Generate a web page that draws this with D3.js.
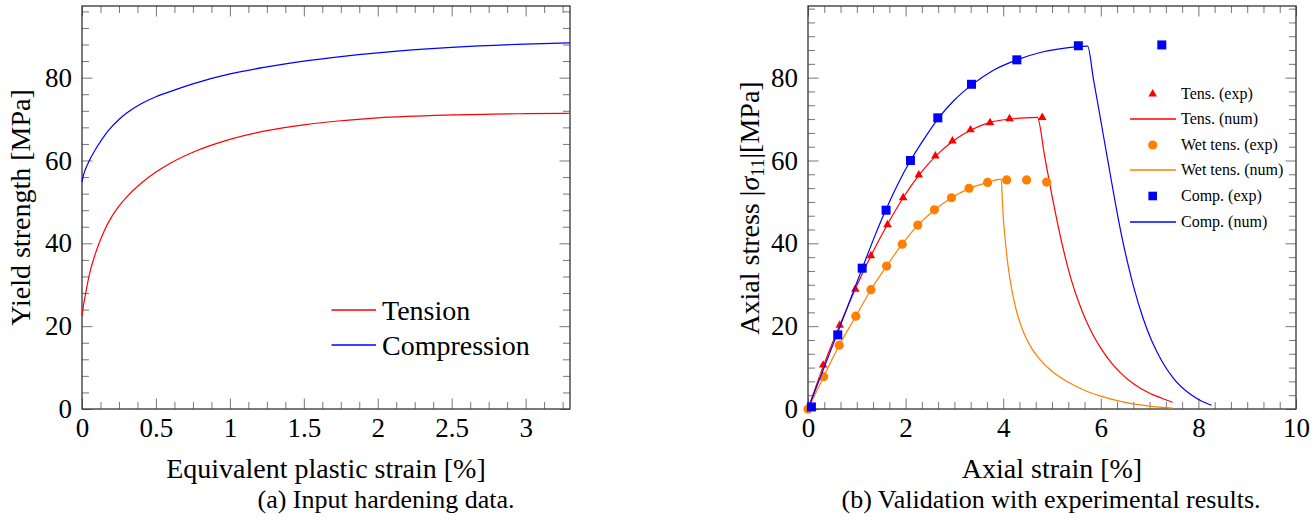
<!DOCTYPE html>
<html><head><meta charset="utf-8">
<script src="https://cdn.jsdelivr.net/npm/d3@7"></script>
<style>
body{margin:0;background:#fff}
svg{display:block}
text{font-family:"Liberation Serif","Times New Roman",Times,serif;fill:#000}
</style>
</head><body>
<svg id="c" width="1316" height="520"></svg>
<script>
// ---------- Panel (a): input hardening data ----------
const hardTensionStrain = [0,0.01,0.02,0.05,0.1,0.15,0.2,0.25,0.3,0.4,0.5,0.6,0.75,1.0,1.25,1.5,1.75,2.0,2.5,3.0,3.3];
const hardTensionYield  = [22.5,25.0,27.0,32.5,38.5,43.0,46.4,49.0,51.1,54.5,57.2,59.4,62.0,65.1,67.2,68.6,69.6,70.3,71.0,71.3,71.4];
const hardCompStrain = [0,0.01,0.02,0.05,0.1,0.15,0.2,0.25,0.3,0.4,0.5,0.6,0.75,1.0,1.25,1.5,1.75,2.0,2.5,3.0,3.3];
const hardCompYield  = [54.8,56.5,57.6,60.0,63.2,65.9,68.1,69.9,71.4,73.7,75.4,76.7,78.5,80.9,82.6,84.0,85.1,86.0,87.3,88.1,88.4];
const hardLegend = ["Tension","Compression"];

// ---------- Panel (b): validation ----------
const tensExpStrain = [0.31,0.65,0.97,1.29,1.63,1.95,2.27,2.61,2.96,3.33,3.73,4.13,4.80];
const tensExpStress = [10.6,20.2,28.9,37.0,44.5,51.0,56.5,61.1,64.7,67.4,69.1,70.1,70.4];
const tensNumStrain = [0,0.31,0.65,0.97,1.29,1.63,1.95,2.27,2.61,2.96,3.33,3.73,4.13,4.45,4.70,4.85,5.00,5.10,5.20,5.30,5.40,5.55,5.70,5.85,6.00,6.20,6.40,6.67,7.00,7.25,7.47];
const tensNumStress = [0,10.2,20.2,29.0,37.0,44.6,51.0,56.4,61.0,64.6,67.3,69.2,70.0,70.3,70.4,61.0,51.5,45.6,40.2,35.3,31.0,25.7,21.3,17.7,14.7,11.4,8.8,6.1,3.8,2.6,1.6];

const wetExpStrain = [0,0.32,0.64,0.98,1.29,1.61,1.93,2.25,2.59,2.94,3.30,3.68,4.07,4.48,4.89];
const wetExpStress = [0,7.8,15.4,22.4,28.8,34.5,39.8,44.4,48.1,51.0,53.3,54.7,55.3,55.3,54.8];
const wetNumStrain = [0,0.32,0.64,0.98,1.29,1.61,1.93,2.25,2.59,2.94,3.30,3.68,3.96,3.98,4.00,4.04,4.10,4.18,4.28,4.40,4.55,4.75,5.00,5.30,5.65,6.00,6.50,7.00,7.47];
const wetNumStress = [0,7.8,15.4,22.4,28.8,34.5,39.8,44.4,48.0,51.0,53.2,54.7,55.5,51.0,46.5,41.0,34.5,28.5,23.3,19.0,15.3,12.0,9.1,6.7,4.6,3.1,1.6,0.7,0.2];

const compExpStrain = [0.07,0.61,1.11,1.60,2.10,2.66,3.35,4.28,5.54,7.25];
const compExpStress = [0.5,17.9,34.0,48.0,60.0,70.3,78.4,84.3,87.7,87.9];
const compNumStrain = [0,0.6,1.1,1.35,1.6,1.85,2.1,2.4,2.66,3.0,3.35,3.8,4.28,4.8,5.3,5.73,5.85,6.0,6.15,6.27,6.36,6.46,6.57,6.67,6.87,7.05,7.25,7.49,7.83,8.05,8.27];
const compNumStress = [0,18.2,33.6,41.2,48.2,54.5,60.0,65.6,70.0,74.6,78.2,81.8,84.3,86.2,87.2,87.6,79.6,69.6,59.6,51.6,45.8,40.0,34.3,29.6,21.8,16.3,11.6,7.4,3.6,2.0,0.9];

const valLegend = ["Tens. (exp)","Tens. (num)","Wet tens. (exp)","Wet tens. (num)","Comp. (exp)","Comp. (num)"];

// ---------- tick labels ----------
const aXTicks = [0,0.5,1,1.5,2,2.5,3];
const aYTicks = [0,20,40,60,80];
const bXTicks = [0,2,4,6,8,10];
const bYTicks = [0,20,40,60,80];

const RED="#ff0000", BLUE="#0000ff", ORANGE="#ff8000";
const svg = d3.select("#c");
const MAJ=10.5, MIN=7;

function frameAxes(g, x, y, xMaj, xMin, yMaj, yMin) {
  const [x0,x1]=x.range(), [y0,y1]=y.range();
  const styl = a => { a.select(".domain").remove();
    a.selectAll("line").attr("stroke","#777").attr("stroke-width",1);
    a.selectAll("text").style("font-family",'"Liberation Serif","Times New Roman",serif').style("font-size","27px").attr("fill","#000"); };
  g.append("g").attr("transform",`translate(0,${y0})`)
    .call(d3.axisBottom(x).tickValues(xMaj).tickSizeInner(-MAJ).tickSizeOuter(0).tickPadding(9).tickFormat(d=>String(d))).call(styl);
  g.append("g").attr("transform",`translate(0,${y0})`)
    .call(d3.axisBottom(x).tickValues(xMin).tickSizeInner(-MIN).tickSizeOuter(0).tickFormat("")).call(styl);
  g.append("g").attr("transform",`translate(0,${y1})`)
    .call(d3.axisTop(x).tickValues(xMaj).tickSizeInner(-MAJ).tickSizeOuter(0).tickFormat("")).call(styl);
  g.append("g").attr("transform",`translate(0,${y1})`)
    .call(d3.axisTop(x).tickValues(xMin).tickSizeInner(-MIN).tickSizeOuter(0).tickFormat("")).call(styl);
  g.append("g").attr("transform",`translate(${x0},0)`)
    .call(d3.axisLeft(y).tickValues(yMaj).tickSizeInner(-MAJ).tickSizeOuter(0).tickPadding(10).tickFormat(d=>String(d))).call(styl);
  g.append("g").attr("transform",`translate(${x0},0)`)
    .call(d3.axisLeft(y).tickValues(yMin).tickSizeInner(-MIN).tickSizeOuter(0).tickFormat("")).call(styl);
  g.append("g").attr("transform",`translate(${x1},0)`)
    .call(d3.axisRight(y).tickValues(yMaj).tickSizeInner(-MAJ).tickSizeOuter(0).tickFormat("")).call(styl);
  g.append("g").attr("transform",`translate(${x1},0)`)
    .call(d3.axisRight(y).tickValues(yMin).tickSizeInner(-MIN).tickSizeOuter(0).tickFormat("")).call(styl);
  g.append("rect").attr("x",x0).attr("y",y1).attr("width",x1-x0).attr("height",y0-y1)
    .attr("fill","none").attr("stroke","#333").attr("stroke-width",1.3);
}

// ===== Panel (a) =====
const xa = d3.scaleLinear().domain([0,3.3]).range([82,570]);
const ya = d3.scaleLinear().domain([0,97.3]).range([409,6]);
const ga = svg.append("g");
const aXMin = d3.range(0,3.3001,0.125).filter(v=>Math.abs(v/0.5-Math.round(v/0.5))>1e-6);
const aYMin = d3.range(0,97.3,4).filter(v=>v%20!==0);
frameAxes(ga, xa, ya, aXTicks, aXMin, aYTicks, aYMin);

const la = d3.line().x(d=>xa(d[0])).y(d=>ya(d[1])).curve(d3.curveMonotoneX);
ga.append("path").attr("d",la(d3.zip(hardTensionStrain,hardTensionYield)))
  .attr("fill","none").attr("stroke",RED).attr("stroke-width",1.2);
ga.append("path").attr("d",la(d3.zip(hardCompStrain,hardCompYield)))
  .attr("fill","none").attr("stroke",BLUE).attr("stroke-width",1.2);

// legend (a)
[[RED,310],[BLUE,345]].forEach((c,i)=>{
  ga.append("line").attr("x1",331.5).attr("x2",376).attr("y1",c[1]).attr("y2",c[1])
    .attr("stroke",c[0]).attr("stroke-width",1.3);
  ga.append("text").attr("x",382).attr("y",c[1]+9.5).style("font-size","28px").text(hardLegend[i]);
});

ga.append("text").attr("x",326).attr("y",478).attr("text-anchor","middle").style("font-size","28px")
  .text("Equivalent plastic strain [%]");
ga.append("text").attr("transform","translate(30,207.5) rotate(-90)").attr("text-anchor","middle")
  .style("font-size","28px").text("Yield strength [MPa]");
ga.append("text").attr("x",386).attr("y",508).attr("text-anchor","middle").style("font-size","26px")
  .text("(a) Input hardening data.");

// ===== Panel (b) =====
const xb = d3.scaleLinear().domain([0,10]).range([808,1296]);
const yb = d3.scaleLinear().domain([0,97.3]).range([409,6]);
const gb = svg.append("g");
const bXMin = d3.range(0,31).filter(i=>i%6!==0).map(i=>i*2/6);
const bYMin = d3.range(0,30).filter(i=>i%6!==0).map(i=>i*20/6);
frameAxes(gb, xb, yb, bXTicks, bXMin, bYTicks, bYMin);

const plot = gb.append("g");
const lb = d3.line().x(d=>xb(d[0])).y(d=>yb(d[1])).curve(d3.curveMonotoneX);
const tri = d3.symbol().type(d3.symbolTriangle).size(32);

function triMarks(xs,ys,color){
  plot.append("g").selectAll("path").data(d3.zip(xs,ys)).join("path")
    .attr("d",tri).attr("transform",d=>`translate(${xb(d[0])},${yb(d[1])})`).attr("fill",color);
}
function circMarks(xs,ys,color){
  plot.append("g").selectAll("circle").data(d3.zip(xs,ys)).join("circle")
    .attr("cx",d=>xb(d[0])).attr("cy",d=>yb(d[1])).attr("r",4.6).attr("fill",color);
}
function sqMarks(xs,ys,color){
  plot.append("g").selectAll("rect").data(d3.zip(xs,ys)).join("rect")
    .attr("x",d=>xb(d[0])-4.5).attr("y",d=>yb(d[1])-4.5).attr("width",9).attr("height",9).attr("fill",color);
}
function numLine(xs,ys,color){
  plot.append("path").attr("d",lb(d3.zip(xs,ys))).attr("fill","none").attr("stroke",color).attr("stroke-width",1.2);
}
triMarks(tensExpStrain,tensExpStress,RED);
numLine(tensNumStrain,tensNumStress,RED);
circMarks(wetExpStrain,wetExpStress,ORANGE);
numLine(wetNumStrain,wetNumStress,ORANGE);
sqMarks(compExpStrain,compExpStress,BLUE);
numLine(compNumStrain,compNumStress,BLUE);

// legend (b)
const legTypes = [["tri",RED],["line",RED],["circ",ORANGE],["line",ORANGE],["sq",BLUE],["line",BLUE]];
legTypes.forEach((t,i)=>{
  const cy = Math.round(93.5 + 25.6*i), mx = 1152.7;
  if(t[0]==="line") gb.append("line").attr("x1",1130).attr("x2",1176).attr("y1",cy).attr("y2",cy).attr("stroke",t[1]).attr("stroke-width",1.3);
  if(t[0]==="tri") gb.append("path").attr("d",tri).attr("transform",`translate(${mx},${cy})`).attr("fill",t[1]);
  if(t[0]==="circ") gb.append("circle").attr("cx",mx).attr("cy",cy).attr("r",4.6).attr("fill",t[1]);
  if(t[0]==="sq") gb.append("rect").attr("x",mx-4.3).attr("y",cy-4.3).attr("width",8.6).attr("height",8.6).attr("fill",t[1]);
  gb.append("text").attr("x",1181).attr("y",cy+5).style("font-size","16px").text(valLegend[i]);
});

gb.append("text").attr("x",1052).attr("y",478).attr("text-anchor","middle").style("font-size","28px")
  .text("Axial strain [%]");
const yl = gb.append("text").attr("transform","translate(759,208) rotate(-90)").attr("text-anchor","middle")
  .style("font-size","28px");
yl.append("tspan").text("Axial stress |");
yl.append("tspan").style("font-style","italic").text("σ");
yl.append("tspan").attr("dy",5).style("font-size","19px").text("11");
yl.append("tspan").attr("dy",-5).text("|[MPa]");
gb.append("text").attr("x",1051).attr("y",508).attr("text-anchor","middle").style("font-size","26px")
  .text("(b) Validation with experimental results.");
</script>
</body></html>
